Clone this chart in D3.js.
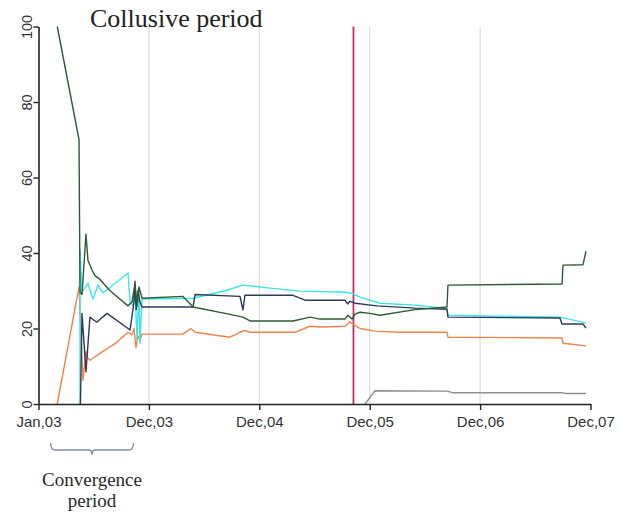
<!DOCTYPE html>
<html><head><meta charset="utf-8">
<script src="https://cdn.jsdelivr.net/npm/d3@7"></script>
<style>body{margin:0;background:#fff}</style>
</head><body><svg id="c" width="618" height="512"></svg>
<script>
// ---- data ----
const xTickLabels = ["Jan,03","Dec,03","Dec,04","Dec,05","Dec,06","Dec,07"];
const yTicks = [0,20,40,60,80,100];
const gridAt = [1,2,3,4];
const collusionEnd = 2.853;
const convergence = [0.11, 0.86];

const greenSeries = [[0.17,100],[0.367,70],[0.376,29.6],[0.394,29],[0.43,45],[0.448,38],[0.485,35.5],[0.512,34],[0.557,33],[0.648,30],[0.811,26],[0.847,27],[0.874,32],[0.892,26],[0.91,31],[0.938,28],[1.309,28.5],[1.40,25.7],[1.689,24],[1.852,23],[1.916,22],[2.305,22],[2.46,23],[2.55,22.5],[2.776,22.5],[2.803,23.5],[2.84,22.5],[2.867,23.8],[2.912,24.3],[3.002,24],[3.093,23.5],[3.41,25],[3.70,25.7],[3.709,31.5],[4.742,31.8],[4.751,36.8],[4.932,36.9],[4.959,40.5]];
const navySeries = [[0.38,0],[0.394,24],[0.43,8.5],[0.466,23],[0.512,22],[0.53,21.7],[0.62,24],[0.811,20],[0.829,19.6],[0.865,27],[0.874,32.5],[0.885,25],[0.901,30],[0.919,27],[0.938,25.7],[1.40,25.7],[1.418,29],[1.825,28.5],[1.852,24.9],[1.87,28.8],[2.305,28.8],[2.414,27.5],[2.776,27.5],[2.80,26.5],[2.821,27.2],[2.867,26.7],[3.066,26],[3.41,25.4],[3.70,25.1],[3.709,23],[4.723,22.8],[4.742,21.2],[4.932,21.2],[4.959,20.1]];
const cyanSeries = [[0.376,0],[0.376,41],[0.394,29.6],[0.448,32],[0.494,27.8],[0.539,31.5],[0.584,29.4],[0.811,34.7],[0.829,27],[0.856,26],[0.874,31],[0.892,17],[0.91,30],[0.919,16],[0.938,27.8],[1.40,28],[1.689,30],[1.852,31.5],[2.097,30.7],[2.369,29.9],[2.776,29.6],[2.84,29.3],[2.912,28.3],[3.093,26.7],[3.41,26.2],[3.70,25.3],[3.709,23.5],[4.723,23],[4.959,21.5]];
const orangeSeries = [[0.17,0],[0.367,31],[0.403,6.3],[0.43,14],[0.439,12.4],[0.466,11.6],[0.557,13.4],[0.693,16],[0.811,19],[0.847,18.3],[0.865,20],[0.883,15],[0.901,18],[0.919,17],[0.938,18.5],[1.309,18.5],[1.38,20],[1.418,19],[1.735,17.7],[1.825,19],[1.87,19.5],[1.916,19],[2.323,19],[2.459,20.6],[2.55,20.4],[2.776,20.6],[2.821,21.7],[2.912,20],[3.048,19.3],[3.274,19],[3.70,19],[3.709,17.7],[4.742,17.5],[4.751,16.1],[4.959,15.4]];
const graySeries = [[2.957,0],[3.048,3.5],[3.70,3.4],[3.75,3],[4.742,3],[4.769,2.8],[4.959,2.8]];

const series = [
  {data: graySeries, color: "#8e8e8e"},
  {data: orangeSeries, color: "#f0824e"},
  {data: cyanSeries, color: "#3fe3e6"},
  {data: navySeries, color: "#2c3a58"},
  {data: greenSeries, color: "#2f5a34"}
];

// ---- layout ----
const svg = d3.select("#c");
const x = d3.scaleLinear().domain([0,5]).range([38.5,590.5]);
const y = d3.scaleLinear().domain([0,100]).range([404,26.5]);

// grid
svg.append("g").selectAll("line").data(gridAt).join("line")
  .attr("x1",d=>x(d)).attr("x2",d=>x(d)).attr("y1",y(100)).attr("y2",y(0))
  .attr("stroke","#dcdcdc").attr("stroke-width",1.2);

// collusion end line
svg.append("line").attr("x1",x(collusionEnd)).attr("x2",x(collusionEnd))
  .attr("y1",y(100)).attr("y2",y(0)).attr("stroke","#c2306a").attr("stroke-width",1.8);

// lines
const line = d3.line().x(d=>x(d[0])).y(d=>y(d[1]));
svg.append("g").selectAll("path").data(series).join("path")
  .attr("d",d=>line(d.data)).attr("fill","none")
  .attr("stroke",d=>d.color).attr("stroke-width",1.4).attr("stroke-linejoin","round");

// axes
const xa = svg.append("g").attr("transform",`translate(0,${y(0)})`)
  .call(d3.axisBottom(x).tickValues(d3.range(xTickLabels.length)).tickFormat(i=>xTickLabels[i]).tickSize(6).tickSizeOuter(0).tickPadding(6));
xa.select(".domain").attr("stroke","#222").attr("stroke-width",1.6);
xa.selectAll(".tick line").attr("stroke","#222").attr("stroke-width",1.4);
xa.selectAll("text").attr("font-family","Liberation Sans, Arial, sans-serif").attr("font-size","15px").attr("fill","#333");

const ya = svg.append("g").attr("transform",`translate(${x(0)},0)`)
  .call(d3.axisLeft(y).tickValues(yTicks).tickSize(5).tickSizeOuter(0));
ya.select(".domain").attr("stroke","#222").attr("stroke-width",1.6);
ya.selectAll(".tick line").attr("stroke","#222").attr("stroke-width",1.4);
ya.selectAll("text").attr("x",null).attr("dy",null)
  .attr("transform","translate(-7,0) rotate(-90)").attr("text-anchor","middle")
  .attr("font-family","Liberation Sans, Arial, sans-serif").attr("font-size","14.5px").attr("fill","#333");

// title
svg.append("text").attr("x",90).attr("y",27).text("Collusive period")
  .attr("font-family","Liberation Serif, serif").attr("font-size","26px").attr("fill","#222");

// convergence bracket
const bx0 = x(convergence[0]), bx1 = x(convergence[1]), bm = (bx0+bx1)/2;
svg.append("path")
  .attr("d",`M${bx0},443 Q${bx0},450 ${bx0+5},450 L${bm-3},450 Q${bm},450 ${bm},455 Q${bm},450 ${bm+3},450 L${bx1-5},450 Q${bx1},450 ${bx1},443`)
  .attr("fill","none").attr("stroke","#7d8aa6").attr("stroke-width",1.3);
svg.append("text").attr("x",bm).attr("y",486).attr("text-anchor","middle").text("Convergence")
  .attr("font-family","Liberation Serif, serif").attr("font-size","19px").attr("fill","#2a2a2a");
svg.append("text").attr("x",bm).attr("y",507).attr("text-anchor","middle").text("period")
  .attr("font-family","Liberation Serif, serif").attr("font-size","19px").attr("fill","#2a2a2a");
</script></body></html>
